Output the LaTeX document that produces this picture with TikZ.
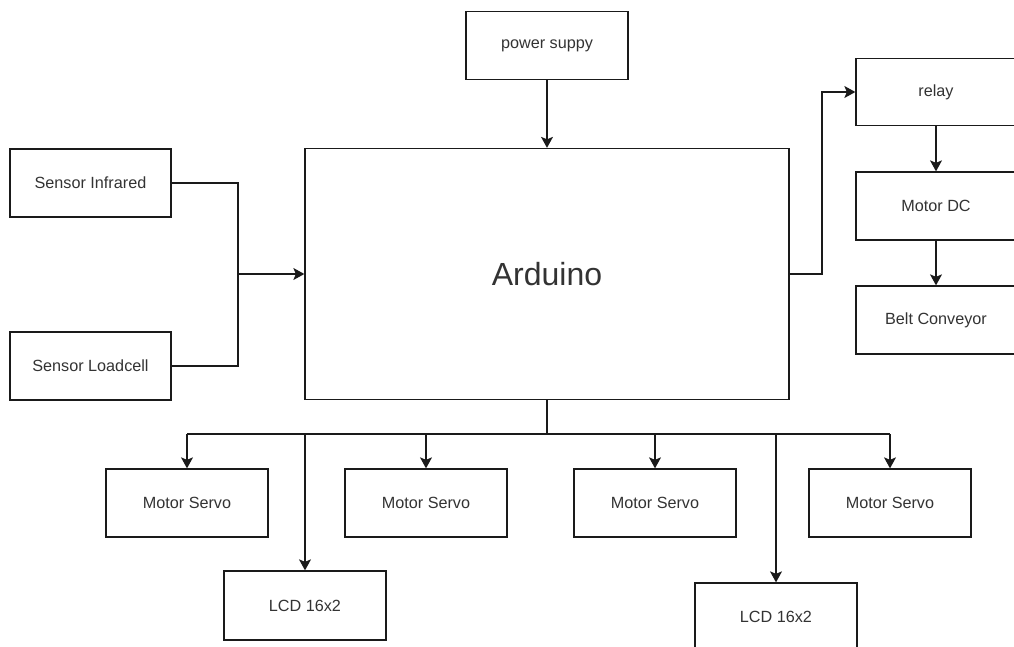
\documentclass[tikz,border=0pt]{standalone}
\usepackage{fontspec}
\setmainfont{Liberation Sans}
\usetikzlibrary{arrows.meta}
\definecolor{ln}{HTML}{1A1A1A}
\definecolor{tx}{HTML}{333333}
\begin{document}
\begin{tikzpicture}[x=1pt,y=-1pt,
  blk/.style={draw=ln,line width=1.3pt,fill=white,text=tx,font=\fontsize{16.2}{19}\selectfont},
  con/.style={draw=ln,line width=1.3pt},
  arr/.style={con,-{Stealth[length=11pt,width=12pt,inset=2.5pt]}}]
\useasboundingbox (0,0) rectangle (1014,646);
\begin{scope}
\clip (0,0) rectangle (1014,646);
% boxes
\node[blk,minimum width=162pt,minimum height=68pt] (ps) at (547,45.5) {power suppy};
\node[blk,minimum width=484pt,minimum height=251pt,font=\fontsize{32}{38}\selectfont] (ard) at (547,274) {Arduino};
\node[blk,minimum width=161pt,minimum height=68pt] (ir) at (90.5,183) {Sensor Infrared};
\node[blk,minimum width=161pt,minimum height=68pt] (lc) at (90.5,366) {Sensor Loadcell};
\node[blk,minimum width=160pt,minimum height=67pt] (rl) at (936,92) {relay};
\node[blk,minimum width=160pt,minimum height=68pt] (dc) at (936,206) {Motor DC};
\node[blk,minimum width=160pt,minimum height=68pt] (bc) at (936,320) {Belt Conveyor};
\node[blk,minimum width=162pt,minimum height=68pt] (s1) at (187,503) {Motor Servo};
\node[blk,minimum width=162pt,minimum height=68pt] (s2) at (426,503) {Motor Servo};
\node[blk,minimum width=162pt,minimum height=68pt] (s3) at (655,503) {Motor Servo};
\node[blk,minimum width=162pt,minimum height=68pt] (s4) at (890,503) {Motor Servo};
\node[blk,minimum width=162pt,minimum height=69pt] (l1) at (305,605.5) {LCD 16x2};
\node[blk,minimum width=162pt,minimum height=68pt] (l2) at (776,617) {LCD 16x2};
% connectors
\coordinate (bus) at (547,434);
\coordinate (mrg) at (238,274);
\draw[arr] (ps.south) -- (ps.south |- ard.north);
\draw[con] (ir.east) -| (mrg);
\draw[con] (lc.east) -| (mrg);
\draw[arr] (mrg) -- (ard.west);
\draw[arr] (ard.east) -- (822,274) |- (rl.west);
\draw[arr] (rl.south) -- (dc.north);
\draw[arr] (dc.south) -- (bc.north);
\draw[con] (ard.south) -- (bus);
\draw[con] (bus) -- (s1.north |- bus);
\draw[con] (bus) -- (s4.north |- bus);
\draw[arr] (s1.north |- bus) -- (s1.north);
\draw[arr] (s2.north |- bus) -- (s2.north);
\draw[arr] (s3.north |- bus) -- (s3.north);
\draw[arr] (s4.north |- bus) -- (s4.north);
\draw[arr] (l1.north |- bus) -- (l1.north);
\draw[arr] (l2.north |- bus) -- (l2.north);
\end{scope}
\end{tikzpicture}
\end{document}
